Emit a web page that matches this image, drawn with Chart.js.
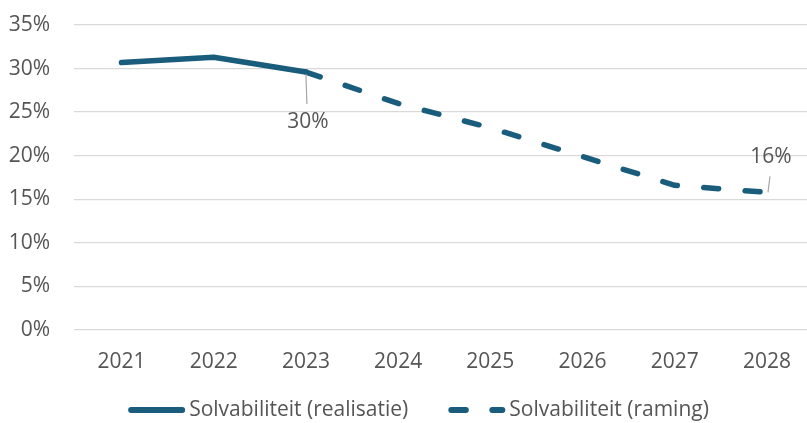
<!DOCTYPE html>
<html>
<head>
<meta charset="utf-8">
<script src="https://cdn.jsdelivr.net/npm/chart.js@4"></script>
<style>
  html, body { margin: 0; padding: 0; background: #fff; overflow: hidden; }
  .chart-container { position: relative; width: 807px; height: 423px; }
</style>
</head>
<body>
<div class="chart-container">
  <canvas id="chart"></canvas>
</div>
<script>
// jaartallen op de x-as
const years = [2021, 2022, 2023, 2024, 2025, 2026, 2027, 2028];

// realisatie (2021 t/m 2023) en raming (2023 t/m 2028), in %
const realisatieYears = [2021, 2022, 2023];
const realisatieValues = [30.7, 31.3, 29.6];
const ramingYears = [2023, 2024, 2025, 2026, 2027, 2028];
const ramingValues = [29.6, 26.0, 23.2, 19.9, 16.6, 15.8];

const yTicks = [0, 5, 10, 15, 20, 25, 30, 35];

const lineColor = "#1a5c7b";
const textColor = "#555555";
const fontFamily = "'Open Sans', sans-serif";
const dashPattern = [15, 26.5];

// labels bij het eerste en laatste punt van de raming
const dataLabels = [
  { dataset: 1, index: 0, text: "30%", lineTo: 32, place: "below" },
  { dataset: 1, index: 5, text: "16%", lineTo: -16, place: "above" },
];

const toPoints = (xs, ys) => xs.map((x, i) => ({ x: x, y: ys[i] }));

const labelPlugin = {
  id: "leaderLabels",
  afterDatasetsDraw(chart) {
    const ctx = chart.ctx;
    ctx.save();
    ctx.font = "21px " + fontFamily;
    ctx.fillStyle = textColor;
    ctx.strokeStyle = "#a6a6a6";
    ctx.lineWidth = 1.2;
    ctx.textAlign = "center";
    ctx.textBaseline = "middle";
    dataLabels.forEach((lbl) => {
      const pt = chart.getDatasetMeta(lbl.dataset).data[lbl.index];
      const x = pt.x;
      const y = pt.y;
      ctx.beginPath();
      if (lbl.place === "below") {
        ctx.moveTo(x, y + 2);
        ctx.lineTo(x + 1, y + lbl.lineTo);
        ctx.stroke();
        ctx.fillText(lbl.text, x + 2, y + lbl.lineTo + 18);
      } else {
        ctx.moveTo(x + 1, y);
        ctx.lineTo(x + 3, y + lbl.lineTo);
        ctx.stroke();
        ctx.fillText(lbl.text, x + 4, y + lbl.lineTo - 19);
      }
    });
    ctx.restore();
  },
};

// legenda onder de grafiek, met gestreepte lijn voor de raming
const legendPlugin = {
  id: "lineLegend",
  afterDraw(chart) {
    const ctx = chart.ctx;
    const items = chart.data.datasets.map((ds) => ({
      text: ds.label,
      dash: ds.borderDash || [],
    }));
    const sampleW = 57;
    const textGap = 4;
    const itemGap = 40;
    ctx.save();
    ctx.font = "21px " + fontFamily;
    let total = 0;
    items.forEach((it, i) => {
      it.w = sampleW + textGap + ctx.measureText(it.text).width;
      total += it.w + (i > 0 ? itemGap : 0);
    });
    let x = chart.width / 2 + 15 - total / 2;
    const y = 410;
    items.forEach((it) => {
      ctx.beginPath();
      ctx.strokeStyle = lineColor;
      ctx.lineWidth = 6;
      ctx.lineCap = "round";
      ctx.setLineDash(it.dash.length ? [14.5, 26.5] : []);
      ctx.moveTo(x + 3, y);
      ctx.lineTo(x + sampleW - 3, y);
      ctx.stroke();
      ctx.setLineDash([]);
      ctx.fillStyle = textColor;
      ctx.textAlign = "left";
      ctx.textBaseline = "middle";
      ctx.fillText(it.text, x + sampleW + textGap, y);
      x += it.w + itemGap;
    });
    ctx.restore();
  },
};

const ctx = document.getElementById("chart").getContext("2d");
new Chart(ctx, {
  type: "line",
  data: {
    datasets: [
      {
        label: "Solvabiliteit (realisatie)",
        data: toPoints(realisatieYears, realisatieValues),
        borderColor: lineColor,
        backgroundColor: lineColor,
        borderWidth: 5.5,
        borderCapStyle: "round",
        borderJoinStyle: "round",
        pointRadius: 0,
        tension: 0,
      },
      {
        label: "Solvabiliteit (raming)",
        data: toPoints(ramingYears, ramingValues),
        borderColor: lineColor,
        backgroundColor: lineColor,
        borderWidth: 5.5,
        borderDash: dashPattern,
        borderCapStyle: "round",
        borderJoinStyle: "round",
        pointRadius: 0,
        tension: 0,
      },
    ],
  },
  options: {
    responsive: true,
    maintainAspectRatio: false,
    animation: false,
    layout: { padding: { top: 25, right: 0, bottom: 43, left: 8 } },
    plugins: {
      tooltip: { enabled: false },
      legend: { display: false },
    },
    scales: {
      x: {
        type: "linear",
        min: 2020.485,
        max: 2028.434,
        afterBuildTicks: (axis) => {
          axis.ticks = years.map((v) => ({ value: v }));
        },
        afterFit: (axis) => {
          axis.height = 50;
          axis.paddingLeft = 0;
          axis.paddingRight = 0;
        },
        ticks: {
          padding: 19,
          color: textColor,
          font: { family: fontFamily, size: 21 },
          callback: (v) => String(v),
        },
        grid: { display: false, drawTicks: false },
        border: { display: false },
      },
      y: {
        min: 0,
        max: 35,
        afterBuildTicks: (axis) => {
          axis.ticks = yTicks.map((v) => ({ value: v }));
        },
        afterFit: (axis) => {
          axis.width = 66;
          axis.paddingTop = 0;
          axis.paddingBottom = 0;
        },
        ticks: {
          padding: 24,
          color: textColor,
          font: { family: fontFamily, size: 21 },
          callback: (v) => v + "%",
        },
        grid: { color: "#d9d9d9", lineWidth: 1.3, drawTicks: false },
        border: { display: false },
      },
    },
  },
  plugins: [labelPlugin, legendPlugin],
});
</script>
</body>
</html>
